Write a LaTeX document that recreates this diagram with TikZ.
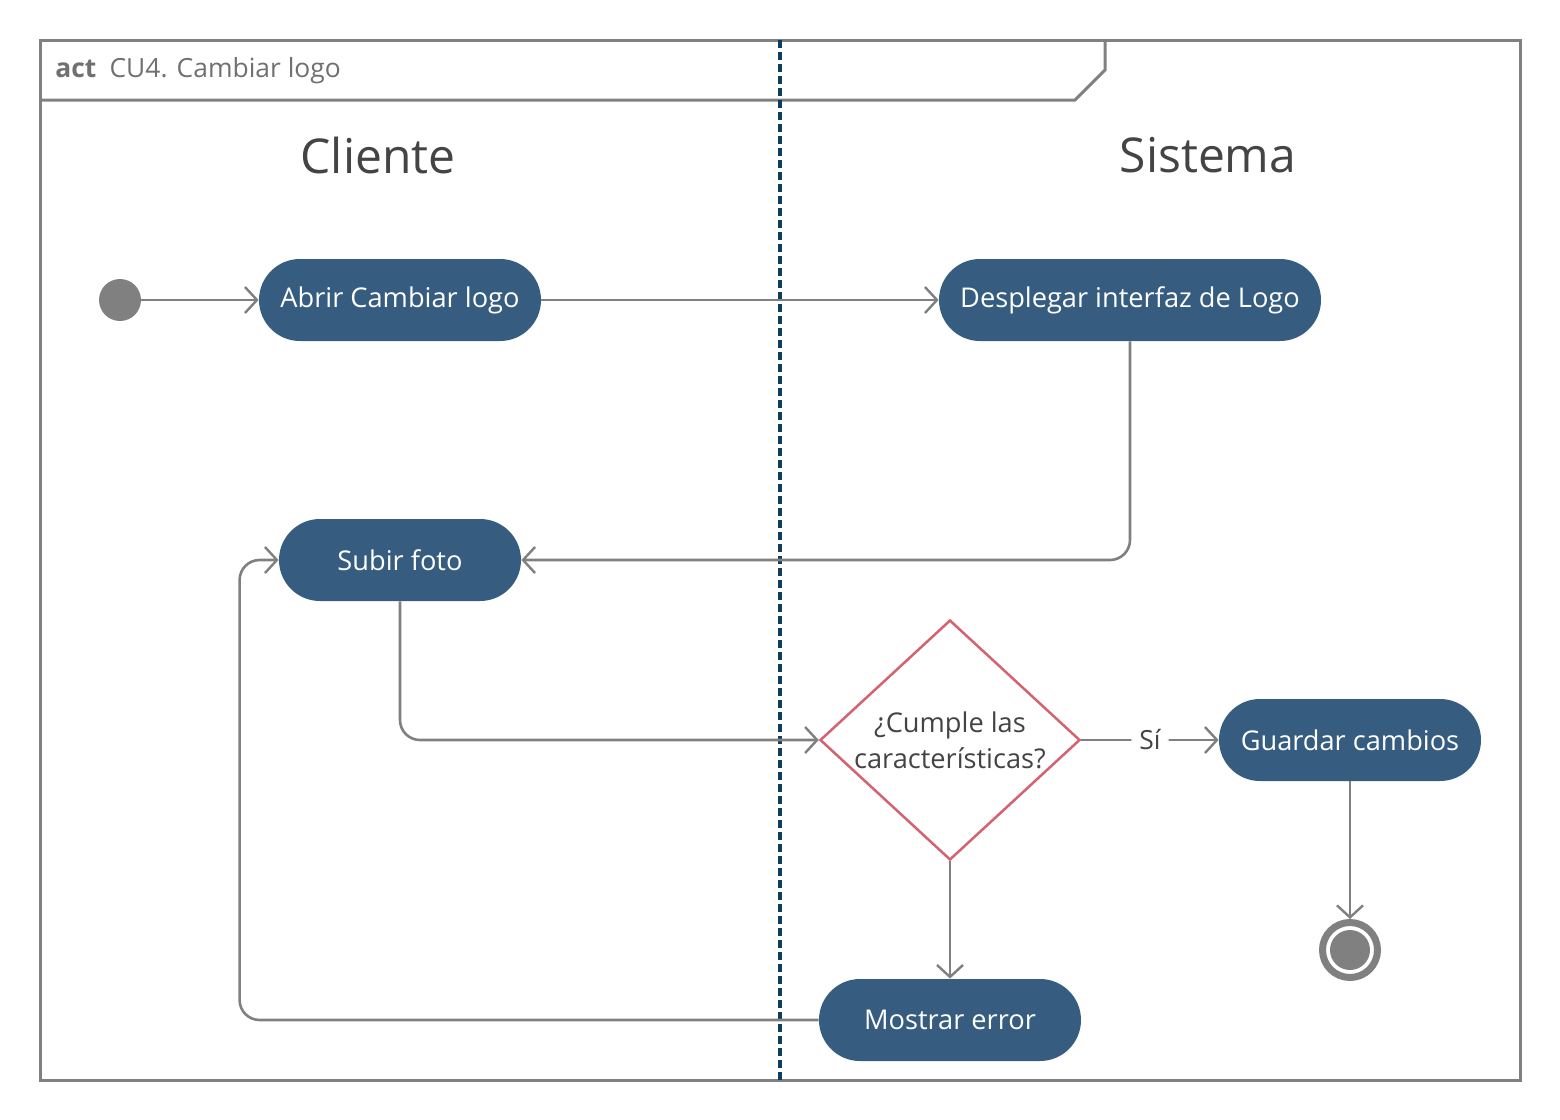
\documentclass[tikz,border=0pt]{standalone}
\usepackage{fontspec}
\setmainfont{Open Sans}
\usetikzlibrary{arrows.meta,shapes.geometric,calc}
\definecolor{lineg}{HTML}{808080}
\definecolor{actfill}{HTML}{365C7F}
\definecolor{lanecol}{HTML}{0F3D60}
\definecolor{decred}{HTML}{D4636F}
\definecolor{txtdark}{HTML}{444444}
\definecolor{hdrtxt}{HTML}{707070}
\tikzset{
  action/.style={rectangle, rounded corners=20.5pt, fill=actfill, text=white,
    minimum height=41pt, inner sep=0pt, font=\fontsize{13.6}{16}\selectfont},
  flow/.style={draw=lineg, line width=1.3pt, rounded corners=10pt,
    -{Straight Barb[length=6pt,width=13pt,line width=1.2pt]}},
  lanetitle/.style={text=txtdark, font=\fontsize{24}{28}\selectfont},
}
\begin{document}
\begin{tikzpicture}[x=0.5pt,y=-0.5pt]
\useasboundingbox (0,0) rectangle (1560,1120);
\fill[white] (0,0) rectangle (1560,1120);

% frame and header tab
\draw[lineg, line width=1.5pt] (40,40) rectangle (1520,1080);
\draw[lineg, line width=1.5pt] (40,100) -- (1075,100) -- (1105,70) -- (1105,40);
\node[anchor=west, text=hdrtxt, font=\fontsize{13.2}{15}\selectfont, inner sep=0pt]
  (hdr) at (55,71) {\textbf{act}\enspace CU4. Cambiar logo};

% swimlane separator
\draw[lanecol, line width=1.6pt, dash pattern=on 4pt off 2pt] (780,40) -- (780,1080);

% lane titles
\node[lanetitle] (cliente) at (378,155) {Cliente};
\node[lanetitle] (sistema) at (1208,155) {Sistema};

% nodes
\node[circle, fill=lineg, minimum size=21pt, inner sep=0pt] (init) at (120,300) {};
\node[action, minimum width=141pt] (abrir) at (400,300) {Abrir Cambiar logo};
\node[action, minimum width=191pt] (desp) at (1130,300) {Desplegar interfaz de Logo};
\node[action, minimum width=121pt] (subir) at (400,560) {Subir foto};
\node[diamond, draw=decred, line width=1.25pt, minimum width=130pt, minimum height=120pt,
  inner sep=0pt] (dec) at (950,740) {};
\node[text=txtdark, align=center, font=\fontsize{13.6}{18}\selectfont] (dectext) at (950,740)
  {¿Cumple las\\características?};
\node[action, minimum width=131pt] (guardar) at (1350,740) {Guardar cambios};
\node[action, minimum width=131pt] (mostrar) at (950,1020) {Mostrar error};
\node[circle, draw=lineg, line width=3.5pt, minimum size=27.5pt, inner sep=0pt] (fin) at (1350,950) {};
\node[circle, fill=lineg, minimum size=20pt, inner sep=0pt] (fincore) at (fin) {};

% control flows
\draw[flow] (init) -- (abrir);
\draw[flow] (abrir) -- (desp);
\draw[flow] (desp.south) |- (subir.east);
\draw[flow] (subir.south) |- (dec.west);
\draw[flow] (dec.east) -- node[fill=white, text=txtdark, inner xsep=4pt, inner ysep=2pt,
  font=\fontsize{13.2}{15}\selectfont] (si) {Sí} (guardar);
\draw[flow] (guardar) -- (fin);
\draw[flow] (dec.south) -- (mostrar);
\draw[flow] (mostrar.west) -- ++(-579,0) |- (subir.west);
\end{tikzpicture}
\end{document}
